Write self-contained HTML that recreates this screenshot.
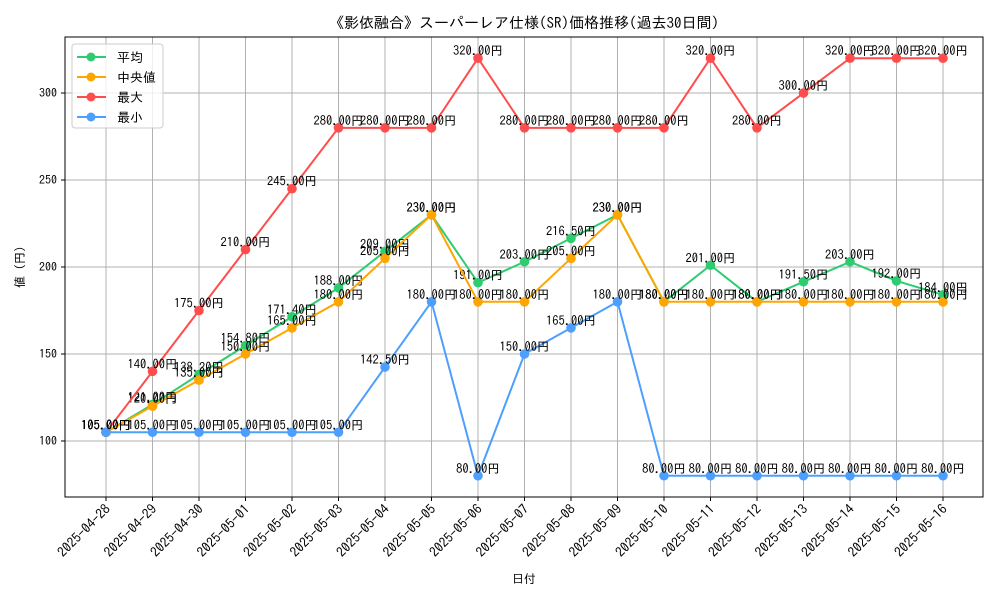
<!DOCTYPE html>
<html><head><meta charset="utf-8"><style>
body{margin:0;background:#fff}
svg{display:block;font-family:"IPAGothic","Liberation Sans","Noto Sans CJK JP",sans-serif}
</style></head><body>
<svg id="c" width="1000" height="600" viewBox="0 0 1000 600" xmlns="http://www.w3.org/2000/svg">
<rect width="1000" height="600" fill="#fff"/>
<text x="524" y="28" text-anchor="middle" font-size="15">《影依融合》スーパーレア仕様(SR)価格推移(過去30日間)</text>
<g id="grid"></g>
<g id="axes"></g>
<g id="series"></g>
<text x="524" y="583" text-anchor="middle" font-size="12">日付</text>
<text transform="translate(24,267) rotate(-90)" text-anchor="middle" font-size="12">値 (円)</text>
<g id="legend"></g>
</svg>
<script>
const dates=["2025-04-28","2025-04-29","2025-04-30","2025-05-01","2025-05-02","2025-05-03","2025-05-04","2025-05-05","2025-05-06","2025-05-07","2025-05-08","2025-05-09","2025-05-10","2025-05-11","2025-05-12","2025-05-13","2025-05-14","2025-05-15","2025-05-16"];
const avgVals=[105,121,138.2,154.8,171.4,188,209,230,191,203,216.5,230,180,201,180,191.5,203,192,184];
const medVals=[105,120,135,150,165,180,205,230,180,180,205,230,180,180,180,180,180,180,180];
const maxVals=[105,140,175,210,245,280,280,280,320,280,280,280,280,320,280,300,320,320,320];
const minVals=[105,105,105,105,105,105,142.5,180,80,150,165,180,80,80,80,80,80,80,80];
const yTicks=[100,150,200,250,300];
const seriesNames=["平均","中央値","最大","最小"];
const colors=["#2ecc71","#ffa500","#ff4d4d","#4d9fff"];
const NS="http://www.w3.org/2000/svg";
const L=65,R=983,T=37,B=497,Y0=67.8,Y1=332.2;
const xs=i=>106+i*(943-106)/(dates.length-1);
const ys=v=>B-(v-Y0)/(Y1-Y0)*(B-T);
function mk(t,a,p){const e=document.createElementNS(NS,t);for(const k in a)e.setAttribute(k,a[k]);p.appendChild(e);return e;}
const grid=document.getElementById('grid'),axes=document.getElementById('axes'),ser=document.getElementById('series'),leg=document.getElementById('legend');
dates.forEach((d,i)=>{
 const g=mk('line',{x1:xs(i),x2:xs(i),y1:T,y2:B,stroke:'#b0b0b0','stroke-width':1},grid);
 
 
 mk('line',{x1:xs(i),x2:xs(i),y1:B,y2:B+4,stroke:'#000'},axes);
 const t=mk('text',{x:0,y:0,'font-size':13.5,'text-anchor':'end',transform:`translate(${xs(i)+5},${B+13}) rotate(-45)`},axes);
 t.textContent=d;
 
 
});
yTicks.forEach(v=>{
 const g=mk('line',{x1:L,x2:R,y1:ys(v),y2:ys(v),stroke:'#b0b0b0','stroke-width':1},grid);
 
 
 mk('line',{x1:L-4,x2:L,y1:ys(v),y2:ys(v),stroke:'#000'},axes);
 const t=mk('text',{x:L-8,y:ys(v)+4,'font-size':12,'text-anchor':'end'},axes);
 t.textContent=v;
 
 
});
mk('rect',{x:L,y:T,width:R-L,height:B-T,fill:'none',stroke:'#000','stroke-width':1},axes);
const all=[avgVals,medVals,maxVals,minVals];
const keys=['avg','median','max','min'];
all.forEach((vals,s)=>{
 const g=mk('g',{},ser);
 
 
 const pl=mk('polyline',{points:vals.map((v,i)=>xs(i)+','+ys(v)).join(' '),fill:'none',stroke:colors[s],'stroke-width':2},g);
 
 
 vals.forEach((v,i)=>{
  const c=mk('circle',{cx:xs(i),cy:ys(v),r:4.8,fill:colors[s]},g);
  
  
  const t=mk('text',{x:xs(i),y:ys(v)-3,'font-size':12.5,'text-anchor':'middle'},g);
  t.textContent=v.toFixed(2)+'円';
  
  
 });
});
mk('rect',{x:72,y:44,width:91,height:84,rx:3,fill:'#fff','fill-opacity':0.8,stroke:'#ccc'},leg);
seriesNames.forEach((n,s)=>{
 const y=57+s*20;
 const e=mk('g',{},leg);
 
 
 mk('line',{x1:77,x2:106,y1:y,y2:y,stroke:colors[s],'stroke-width':2},e);
 mk('circle',{cx:91,cy:y,r:4.5,fill:colors[s]},e);
 const t=mk('text',{x:117,y:y+5,'font-size':13},e);
 t.textContent=n;
});
</script>
</body></html>
